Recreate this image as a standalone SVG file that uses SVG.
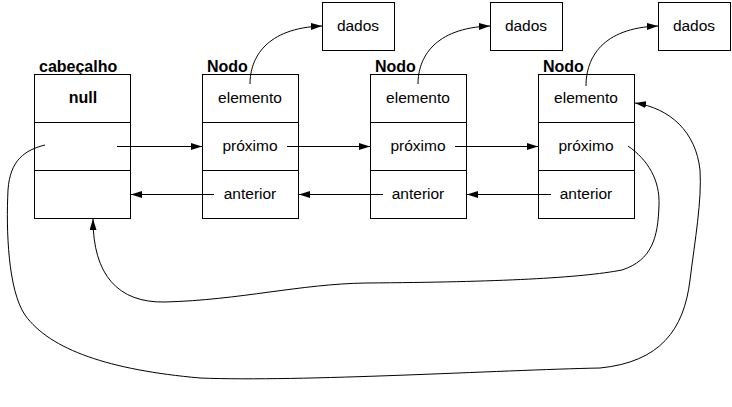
<svg xmlns="http://www.w3.org/2000/svg" width="732" height="407" viewBox="0 0 732 407">
<defs>
<marker id="ah" markerUnits="userSpaceOnUse" markerWidth="12" markerHeight="8" refX="11" refY="3.5" orient="auto">
<path d="M0,0 L11,3.5 L0,7 z" fill="#000"/>
</marker>
<style>
.box { fill: #fff; stroke: #000; stroke-width: 1; }
.div { fill: none; stroke: #000; stroke-width: 1; }
.t { font-family: "Liberation Sans", Arial, sans-serif; font-size: 15.5px; fill: #000; text-anchor: middle; }
.b { font-family: "Liberation Sans", Arial, sans-serif; font-size: 16px; font-weight: bold; fill: #000; }
.c { fill: none; stroke: #000; stroke-width: 1; marker-end: url(#ah); }
</style>
</defs>
<rect width="732" height="407" fill="#fff"/>

<g id="cabecalho">
<text class="b" x="39" y="72">cabeçalho</text>
<rect class="box" x="34.5" y="74.5" width="96" height="144"/>
<line class="div" x1="34.5" y1="122.5" x2="130.5" y2="122.5"/>
<line class="div" x1="34.5" y1="170.5" x2="130.5" y2="170.5"/>
<text class="b" x="83" y="103" text-anchor="middle">null</text>
</g>

<g id="nodo1">
<text class="b" x="207" y="72">Nodo</text>
<rect class="box" x="202.5" y="74.5" width="96" height="144"/>
<line class="div" x1="202.5" y1="122.5" x2="298.5" y2="122.5"/>
<line class="div" x1="202.5" y1="170.5" x2="298.5" y2="170.5"/>
<text class="t" x="250" y="103">elemento</text>
<text class="t" x="250" y="151">próximo</text>
<text class="t" x="250" y="199">anterior</text>
</g>

<g id="nodo2">
<text class="b" x="375" y="72">Nodo</text>
<rect class="box" x="370.5" y="74.5" width="96" height="144"/>
<line class="div" x1="370.5" y1="122.5" x2="466.5" y2="122.5"/>
<line class="div" x1="370.5" y1="170.5" x2="466.5" y2="170.5"/>
<text class="t" x="418" y="103">elemento</text>
<text class="t" x="418" y="151">próximo</text>
<text class="t" x="418" y="199">anterior</text>
</g>

<g id="nodo3">
<text class="b" x="543" y="72">Nodo</text>
<rect class="box" x="538.5" y="74.5" width="96" height="144"/>
<line class="div" x1="538.5" y1="122.5" x2="634.5" y2="122.5"/>
<line class="div" x1="538.5" y1="170.5" x2="634.5" y2="170.5"/>
<text class="t" x="586" y="103">elemento</text>
<text class="t" x="586" y="151">próximo</text>
<text class="t" x="586" y="199">anterior</text>
</g>

<g id="dados1">
<rect class="box" x="322.5" y="2.5" width="72" height="48"/>
<text class="t" x="358" y="31">dados</text>
</g>
<g id="dados2">
<rect class="box" x="490.5" y="2.5" width="72" height="48"/>
<text class="t" x="526" y="31">dados</text>
</g>
<g id="dados3">
<rect class="box" x="658.5" y="2.5" width="72" height="48"/>
<text class="t" x="694" y="31">dados</text>
</g>

<g id="connectors">
<line class="c" x1="117" y1="146.5" x2="202" y2="146.5"/>
<line class="c" x1="287" y1="146.5" x2="370" y2="146.5"/>
<line class="c" x1="455" y1="146.5" x2="538" y2="146.5"/>
<line class="c" x1="214" y1="194.5" x2="131" y2="194.5"/>
<line class="c" x1="383" y1="194.5" x2="299" y2="194.5"/>
<line class="c" x1="551" y1="194.5" x2="467" y2="194.5"/>
<path class="c" d="M250,84 C250,58 266,28 322,26"/>
<path class="c" d="M418,84 C418,58 434,28 490,26"/>
<path class="c" d="M586,86 C586,58 602,28 658,26"/>
<path class="c" d="M628,146 C648,160 660,180 659,205 C658,238 652,260 622,270 C580,278 500,282 366,283 C300,284 240,300 165,302 C118,303 93,275 93,219"/>
<path class="c" d="M45,145 C25,150 10,160 8,190 C6,230 8,290 25,315 C50,350 110,370 200,378 C300,382 500,370 600,368 C660,362 684,330 690,280 C695,240 702,200 700,170 C696,132 670,108 635,103"/>
</g>
</svg>
